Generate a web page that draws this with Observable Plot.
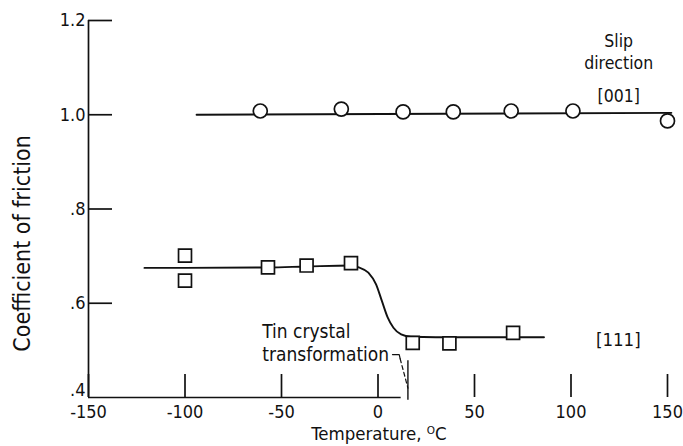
<!DOCTYPE html>
<html><head><meta charset="utf-8">
<script src="https://cdn.jsdelivr.net/npm/d3@7"></script>
<script src="https://cdn.jsdelivr.net/npm/@observablehq/plot@0.6"></script>
<style>
html,body{margin:0;padding:0;background:#fff;}
#chart svg{display:block;}
</style></head><body><div id="chart"></div>
<script>
// Axis ticks and labels
const xTicks = [-150, -100, -50, 0, 50, 100, 150];
const xTickLabels = ["-150", "-100", "-50", "0", "50", "100", "150"];
const yTicks = [0.4, 0.6, 0.8, 1.0, 1.2];
const yTickLabels = [".4", ".6", ".8", "1.0", "1.2"];

// Slip direction [001] — circles
const temp001 = [-61, -19, 13, 39, 69, 101, 150];
const cof001 = [1.008, 1.012, 1.006, 1.006, 1.008, 1.008, 0.987];
// Slip direction [111] — squares
const temp111 = [-100, -100, -57, -37, -14, 18, 37, 70];
const cof111 = [0.701, 0.648, 0.676, 0.680, 0.685, 0.516, 0.515, 0.537];

// Faired curves drawn through the data
const fit001Temp = [-94, 152];
const fit001Cof = [1.0, 1.004];
const fit111Temp = [-121, -100, -57, -37, -14, -10, -5, -1, 2, 5, 8, 12, 17, 30, 86];
const fit111Cof = [0.675, 0.675, 0.676, 0.678, 0.680, 0.676, 0.665, 0.640, 0.605, 0.570, 0.548, 0.534, 0.529, 0.528, 0.528];

// Tin crystal transformation marker
const transformationTemp = 15.5;

const pts = (xs, ys) => xs.map((x, i) => ({x, y: ys[i]}));
const font = "'DejaVu Sans Condensed', 'DejaVu Sans', sans-serif";
const ink = "#111";
const labelOf = (ticks, labels) => d => labels[ticks.indexOf(d)];

const chart = Plot.plot({
  width: 683,
  height: 446,
  marginLeft: 88,
  marginRight: 16,
  marginTop: 20,
  marginBottom: 49,
  style: {fontFamily: font, fontSize: "18px", color: ink, background: "#fff"},
  x: {domain: [xTicks[0], xTicks[xTicks.length - 1]]},
  y: {domain: [yTicks[0], yTicks[yTicks.length - 1]]},
  marks: [
    // axis lines
    Plot.ruleX([xTicks[0]], {y1: yTicks[0], y2: yTicks[yTicks.length - 1], strokeWidth: 1.7, stroke: ink}),
    Plot.ruleY([yTicks[0]], {x1: xTicks[0], x2: 12, strokeWidth: 1.7, stroke: ink}),
    // inward ticks with labels
    Plot.axisX({ticks: xTicks, tickSize: -23, tickPadding: 31, strokeWidth: 1.7, stroke: ink,
      tickFormat: labelOf(xTicks, xTickLabels), fill: ink, fontSize: 18, label: null}),
    Plot.axisY({ticks: yTicks.slice(1), tickSize: -24, tickPadding: 27, strokeWidth: 1.7, stroke: ink,
      tickFormat: labelOf(yTicks, yTickLabels), fill: ink, fontSize: 18, label: null}),
    Plot.axisY({ticks: yTicks.slice(0, 1), tickSize: 0, tickPadding: 3, dy: -7,
      tickFormat: labelOf(yTicks, yTickLabels), fill: ink, fontSize: 18, label: null}),
    // axis titles
    Plot.text(["Coefficient of friction"], {frameAnchor: "left", y: 0.727, rotate: -90, dx: -66,
      textAnchor: "middle", lineAnchor: "middle", fontSize: 23, letterSpacing: "0.4px", fill: ink}),
    Plot.text(["Temperature, ᴼC"], {frameAnchor: "bottom", x: 0.5, dy: 37, textAnchor: "middle",
      lineAnchor: "middle", fontSize: 18.5, fill: ink}),
    // faired curves
    Plot.line(pts(fit001Temp, fit001Cof), {x: "x", y: "y", stroke: ink, strokeWidth: 1.9}),
    Plot.line(pts(fit111Temp, fit111Cof), {x: "x", y: "y", stroke: ink, strokeWidth: 1.9, curve: "monotone-x"}),
    // data symbols
    Plot.dot(pts(temp001, cof001), {x: "x", y: "y", r: 7, fill: "white", stroke: ink, strokeWidth: 1.7}),
    Plot.dot(pts(temp111, cof111), {x: "x", y: "y", r: 7.3, symbol: "square", fill: "white", stroke: ink, strokeWidth: 1.7}),
    // annotations
    Plot.text(["Slip", "direction", "[001]"], {x: 124.7, y: [1.156, 1.108, 1.039], text: d => d, fontSize: 17.5, fill: ink}),
    Plot.text(["[111]"], {x: 124.5, y: 0.521, fontSize: 18.5, fill: ink}),
    Plot.text(["Tin crystal", "transformation"], {x: -60, y: [0.540, 0.491], textAnchor: "start", fontSize: 19, fill: ink}),
    Plot.line([{x: 7.5, y: 0.491}, {x: 11, y: 0.491}, {x: 11.5, y: 0.482}], {x: "x", y: "y", stroke: ink, strokeWidth: 1.2}),
    Plot.line([{x: 11.5, y: 0.482}, {x: transformationTemp, y: 0.42}], {x: "x", y: "y", stroke: ink, strokeWidth: 1.2, strokeDasharray: "4,3"}),
    Plot.ruleX([transformationTemp], {y1: 0.394, y2: 0.478, stroke: ink, strokeWidth: 1.4})
  ]
});
document.getElementById("chart").appendChild(chart);
</script>
</body></html>
